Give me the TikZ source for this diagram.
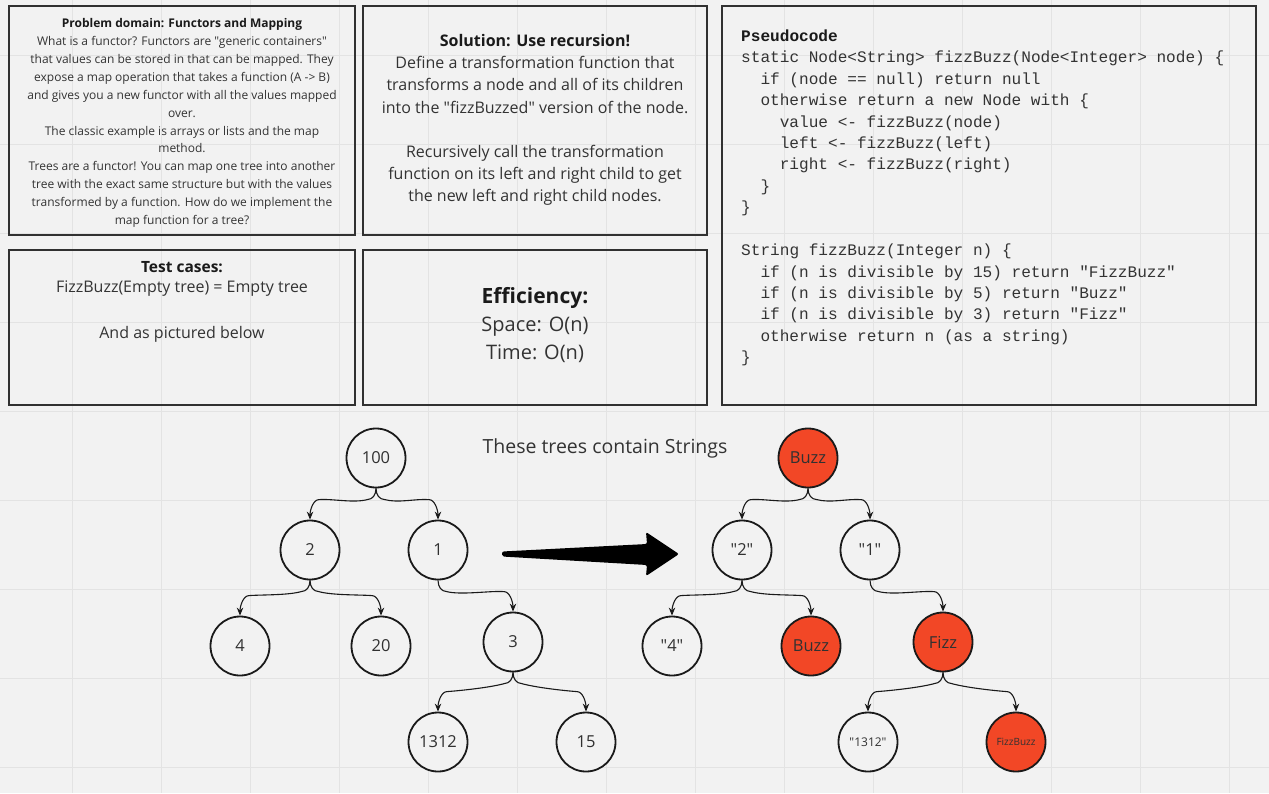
\documentclass[tikz,border=0pt]{standalone}
\usepackage{fontspec}
\setmainfont{Open Sans}[Ligatures=TeXOff]
\setmonofont{Liberation Mono}
\usetikzlibrary{arrows.meta,calc}
\definecolor{bg}{HTML}{F2F2F2}
\definecolor{gridc}{HTML}{E3E3E3}
\definecolor{ink}{HTML}{1A1A1A}
\definecolor{txt}{HTML}{333333}
\definecolor{fbred}{HTML}{F24726}
\tikzset{
  panel/.style={draw=ink!90, line width=2pt},
  tnode/.style={circle, draw=ink, line width=1.8pt, minimum size=59pt, inner sep=0pt,
    fill=bg, text=ink!90, font=\fontsize{16.5}{18}\selectfont},
  hot/.style={tnode, fill=fbred},
  link/.style={draw=ink, line width=1.1pt, -{Stealth[length=8pt,width=6.5pt]}},
  code/.style={anchor=base west, inner sep=0pt, font=\ttfamily\fontsize{16.1}{18}\selectfont, text=txt},
  codehead/.style={code, font=\ttfamily\bfseries\fontsize{16.1}{18}\selectfont, text=ink},
  para/.style={inner sep=0pt, align=center, text=txt},
  ttl/.style={inner sep=0pt, text=ink, font=\bfseries\fontsize{15.5}{18}\selectfont},
}
\newcommand\tlink[3]{%
  \pgfmathsetmacro\tlA{#3*(-4)}%
  \pgfmathsetmacro\tlB{#3*8}%
  \pgfmathsetmacro\tlC{#3*14}%
  \pgfmathsetmacro\tlD{#3*(-14)}%
  \pgfmathsetmacro\tlE{#3*(-9)}%
  \pgfmathsetmacro\tlF{#3*6}%
  \draw[link] (#1.south) .. controls +(0,7) and +(\tlA,0) ..
    ($(#1.south)+(\tlB,11)$) .. controls +(\tlC,4) and +(\tlD,-1) ..
    ($(#2.north)+(\tlE,-20)$) .. controls +(\tlF,0) and +(0,-9) .. (#2.north);}
\begin{document}
\begin{tikzpicture}[x=1pt,y=-1pt]
\useasboundingbox (0,0) rectangle (1269,793);
\fill[bg] (0,0) rectangle (1269,793);
\foreach \gx in {72,161,250,339,428,517,606,695,784,873,962,1051,1140,1229}
  \draw[gridc, line width=1pt] (\gx,0) -- (\gx,793);
\foreach \gy in {55,144,233,322,411,500,589,678,767}
  \draw[gridc, line width=1pt] (0,\gy) -- (1269,\gy);

% panels
\draw[panel] (9,6) rectangle (355,235);
\draw[panel] (363,6) rectangle (707,235);
\draw[panel] (722,6) rectangle (1256,405);
\draw[panel] (9,250) rectangle (355,405);
\draw[panel] (363,250) rectangle (707,405);

% problem domain
\node[para, font=\fontsize{12}{17.9}\selectfont] (prob) at (182,123) {%
  \textbf{\color{ink}Problem domain: Functors and Mapping}\\
  What is a functor? Functors are "generic containers"\\
  that values can be stored in that can be mapped. They\\
  expose a map operation that takes a function (A -> B)\\
  and gives you a new functor with all the values mapped\\
  over.\\
  The classic example is arrays or lists and the map\\
  method.\\
  Trees are a functor! You can map one tree into another\\
  tree with the exact same structure but with the values\\
  transformed by a function. How do we implement the\\
  map function for a tree?};

% solution
\node[para, font=\fontsize{16}{22.2}\selectfont] (sol) at (535,120) {%
  \textbf{\color{ink}Solution: Use recursion!}\\
  Define a transformation function that\\
  transforms a node and all of its children\\
  into the "fizzBuzzed" version of the node.\\[22.2pt]
  Recursively call the transformation\\
  function on its left and right child to get\\
  the new left and right child nodes.};

% test cases
\node[ttl] (tch) at (182,267) {Test cases:};
\node[para, font=\fontsize{16}{18}\selectfont] (tc1) at (182,289) {FizzBuzz(Empty tree) = Empty tree};
\node[para, font=\fontsize{16}{18}\selectfont] (tc2) at (182,334) {And as pictured below};

% efficiency
\node[ttl, font=\bfseries\fontsize{21}{24}\selectfont] (effh) at (535,298) {Efficiency:};
\node[para, font=\fontsize{20}{24}\selectfont] (eff1) at (535,327) {Space: O(n)};
\node[para, font=\fontsize{20}{24}\selectfont] (eff2) at (535,354) {Time: O(n)};

% pseudocode
\node[codehead] (c0) at (741,41) {Pseudocode};
\node[code] (c1) at (741,62) {static Node<String> fizzBuzz(Node<Integer> node) \{};
\node[code] (c2) at (760.3,84) {if (node == null) return null};
\node[code] (c3) at (760.3,105) {otherwise return a new Node with \{};
\node[code] (c4) at (779.6,127) {value <- fizzBuzz(node)};
\node[code] (c5) at (779.6,148) {left <- fizzBuzz(left)};
\node[code] (c6) at (779.6,169) {right <- fizzBuzz(right)};
\node[code] (c7) at (760.3,191) {\}};
\node[code] (c8) at (741,212) {\}};
\node[code] (c9) at (741,255) {String fizzBuzz(Integer n) \{};
\node[code] (c10) at (760.3,277) {if (n is divisible by 15) return "FizzBuzz"};
\node[code] (c11) at (760.3,298) {if (n is divisible by 5) return "Buzz"};
\node[code] (c12) at (760.3,319) {if (n is divisible by 3) return "Fizz"};
\node[code] (c13) at (760.3,341) {otherwise return n (as a string)};
\node[code] (c14) at (741,362) {\}};

% caption
\node[para, font=\fontsize{19.5}{22}\selectfont] (cap) at (605,448) {These trees contain Strings};

% left tree
\node[tnode] (a100) at (376,458) {100};
\node[tnode] (a2) at (310,550) {2};
\node[tnode] (a1) at (438,550) {1};
\node[tnode] (a4) at (240,646) {4};
\node[tnode] (a20) at (381,646) {20};
\node[tnode] (a3) at (513,642) {3};
\node[tnode] (a1312) at (438,742) {1312};
\node[tnode] (a15) at (586,742) {15};
\tlink{a100}{a2}{-1}
\tlink{a100}{a1}{1}
\tlink{a2}{a4}{-1}
\tlink{a2}{a20}{1}
\tlink{a1}{a3}{1}
\tlink{a3}{a1312}{-1}
\tlink{a3}{a15}{1}

% right tree
\node[hot] (b100) at (808,458) {Buzz};
\node[tnode] (b2) at (742,550) {"2"};
\node[tnode] (b1) at (870,550) {"1"};
\node[tnode] (b4) at (672,646) {"4"};
\node[hot] (b20) at (811,646) {Buzz};
\node[hot] (b3) at (943,642) {Fizz};
\node[tnode, font=\fontsize{12}{14}\selectfont] (b1312) at (868,742) {"1312"};
\node[hot, font=\fontsize{10}{12}\selectfont] (b15) at (1016,742) {FizzBuzz};
\tlink{b100}{b2}{-1}
\tlink{b100}{b1}{1}
\tlink{b2}{b4}{-1}
\tlink{b2}{b20}{1}
\tlink{b1}{b3}{1}
\tlink{b3}{b1312}{-1}
\tlink{b3}{b15}{1}

% big transformation arrow
\fill[black, rounded corners=2pt] (502,551.5) -- (647,544) -- (646,532) -- (679,554)
  -- (646,576) -- (647,565) -- (502,556.5) -- cycle;
\end{tikzpicture}
\end{document}
